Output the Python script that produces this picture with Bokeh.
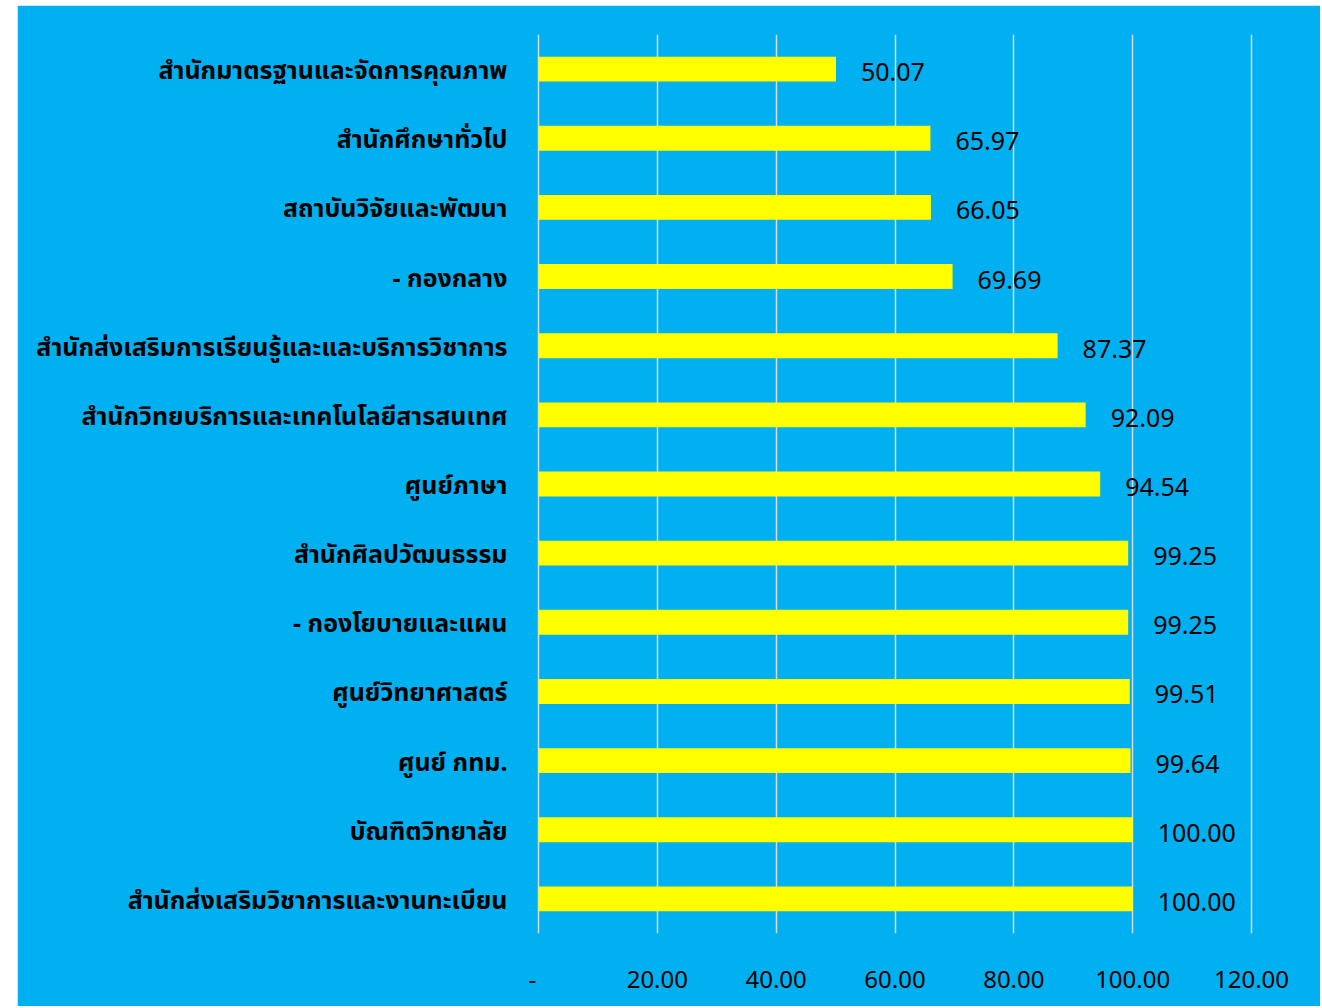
from bokeh.plotting import figure
from bokeh.models import FactorRange, Range1d, ColumnDataSource, FixedTicker, Spacer
from bokeh.layouts import row, column
from bokeh.core.properties import value
from bokeh.embed import file_html
from bokeh.resources import INLINE

categories = [
    "สำนักมาตรฐานและจัดการคุณภาพ",
    "สำนักศึกษาทั่วไป",
    "สถาบันวิจัยและพัฒนา",
    "- กองกลาง",
    "สำนักส่งเสริมการเรียนรู้และและบริการวิชาการ",
    "สำนักวิทยบริการและเทคโนโลยีสารสนเทศ",
    "ศูนย์ภาษา",
    "สำนักศิลปวัฒนธรรม",
    "- กองโยบายและแผน",
    "ศูนย์วิทยาศาสตร์",
    "ศูนย์ กทม.",
    "บัณฑิตวิทยาลัย",
    "สำนักส่งเสริมวิชาการและงานทะเบียน",
]
values = [50.07, 65.97, 66.05, 69.69, 87.37, 92.09, 94.54, 99.25, 99.25, 99.51, 99.64, 100.00, 100.00]
tick_values = [0, 20, 40, 60, 80, 100, 120]
tick_labels = ["-\u00a0\u00a0", "20.00", "40.00", "60.00", "80.00", "100.00", "120.00"]

BLUE = "#00B0F0"
FONT = "'Noto Sans', 'Noto Sans Thai', 'Loma', 'Garuda', 'Tahoma', sans-serif"

src = ColumnDataSource(dict(
    cat=categories,
    val=values,
    lab=[f"{v:.2f}" for v in values],
))

pad = 2 * 120 / 713.0  # 2px of breathing room so the edge gridlines stay visible

p = figure(
    width=1303, height=1001,
    y_range=FactorRange(factors=list(reversed(categories))),
    x_range=Range1d(0 - pad, 120 + pad),
    output_backend="svg", toolbar_location=None,
    min_border_left=519, min_border_right=67, min_border_top=29, min_border_bottom=73,
)
p.background_fill_color = BLUE
p.border_fill_color = BLUE
p.outline_line_color = BLUE
p.outline_line_width = 2

p.hbar(y="cat", right="val", left=0, height=0.36, source=src,
       fill_color="#FFFF00", line_color=None)
p.text(x="val", y="cat", text="lab", source=src, x_offset=25, y_offset=3,
       text_align="left", text_baseline="middle",
       text_font=value(FONT), text_font_size="25px", text_color="black")

p.xgrid.ticker = FixedTicker(ticks=tick_values)
p.xgrid.grid_line_color = "#D9D9D9"
p.xgrid.grid_line_width = 1.5
p.ygrid.grid_line_color = None

p.xaxis.ticker = FixedTicker(ticks=tick_values)
p.xaxis.major_label_overrides = {t: l for t, l in zip(tick_values, tick_labels)}
p.xaxis.axis_line_color = None
p.xaxis.major_tick_line_color = None
p.xaxis.minor_tick_line_color = None
p.xaxis.major_tick_out = 0
p.xaxis.major_label_standoff = 28
p.xaxis.major_label_text_font = FONT
p.xaxis.major_label_text_font_size = "24px"
p.xaxis.major_label_text_color = "black"

p.yaxis.axis_line_color = None
p.yaxis.major_tick_line_color = None
p.yaxis.major_tick_out = 0
p.yaxis.major_label_standoff = 29
p.yaxis.major_label_text_font = FONT
p.yaxis.major_label_text_font_size = "25px"
p.yaxis.major_label_text_font_style = "bold"
p.yaxis.major_label_text_color = "black"

layout = column(Spacer(width=10, height=5),
                row(Spacer(width=17, height=1001), p, spacing=0),
                spacing=0)

open("out.html", "w").write(file_html(layout, INLINE))
